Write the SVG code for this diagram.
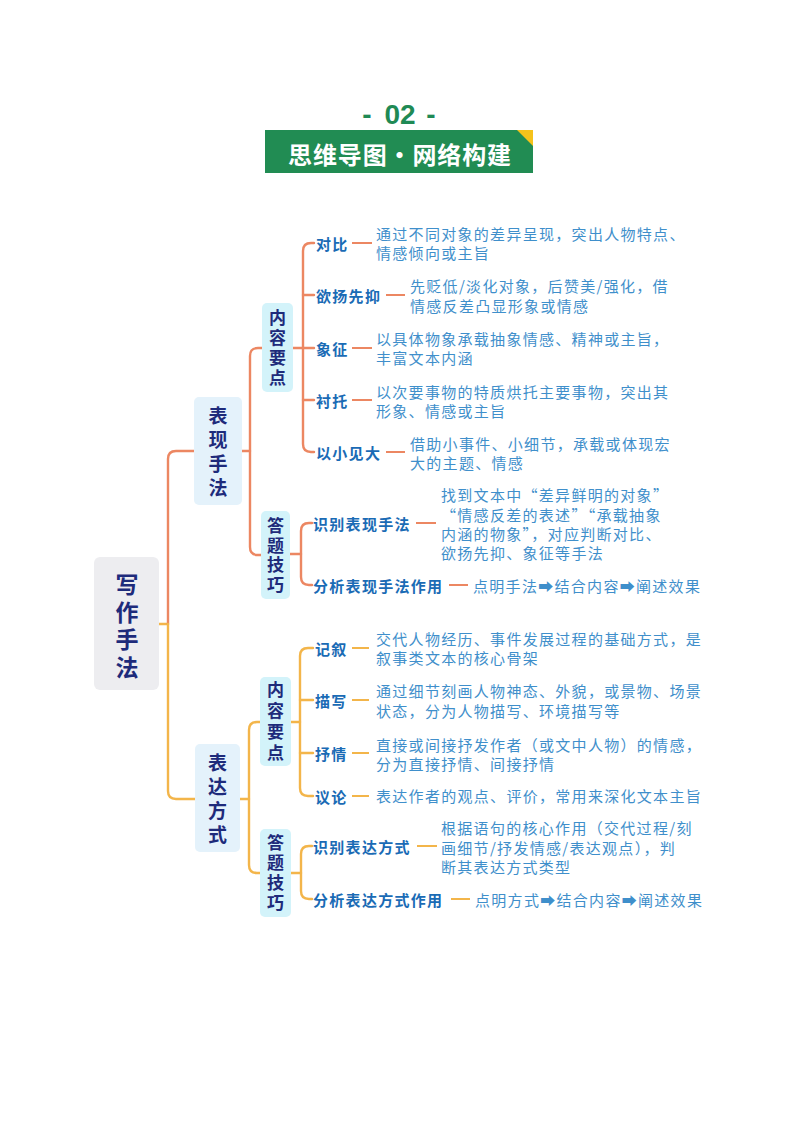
<svg xmlns="http://www.w3.org/2000/svg" width="800" height="1132" viewBox="0 0 800 1132">
<style>
.nt{font-family:"Noto Sans CJK SC","Noto Sans",sans-serif;font-weight:bold;fill:#1E2B7B;text-anchor:middle;writing-mode:vertical-rl;text-orientation:upright}
.lbl{font-family:"Noto Sans CJK SC","Noto Sans",sans-serif;font-weight:bold;font-size:15px;fill:#1A6BB5;letter-spacing:1.3px;dominant-baseline:central}
.desc{font-family:"Noto Sans CJK SC","Noto Sans","DejaVu Sans",sans-serif;font-size:15px;fill:#3F8FCB;letter-spacing:1.3px;dominant-baseline:central}
.r{fill:none;stroke:#EC8762;stroke-width:2.4;stroke-linecap:round}
.y{fill:none;stroke:#F3B54A;stroke-width:2.4;stroke-linecap:round}
.rd{fill:none;stroke:#EC8762;stroke-width:1.8}
.yd{fill:none;stroke:#F3B54A;stroke-width:1.8}
.b1{fill:#E4F2FB}
.b2{fill:#D3F3FA}
</style>
<rect width="800" height="1132" fill="#FFFFFF"/>
<g id="header">
<text x="367" y="114" font-family="Liberation Sans,Arial,sans-serif" font-weight="bold" font-size="28" fill="#1F8A55" text-anchor="middle" dominant-baseline="central">-</text>
<text x="400" y="114" font-family="Liberation Sans,Arial,sans-serif" font-weight="bold" font-size="28" fill="#1F8A55" text-anchor="middle" dominant-baseline="central">02</text>
<text x="431" y="114" font-family="Liberation Sans,Arial,sans-serif" font-weight="bold" font-size="28" fill="#1F8A55" text-anchor="middle" dominant-baseline="central">-</text>
<rect x="265" y="130" width="268" height="43" fill="#218C53"/>
<polygon points="517,130 533,130 533,146" fill="#F5C21B"/>
<text x="288" y="153" font-family="Noto Sans CJK SC,sans-serif" font-weight="bold" font-size="24" fill="#FFFFFF" dominant-baseline="central" textLength="223" lengthAdjust="spacing">思维导图·网络构建</text>
</g>
<g id="connectors">
<path class="y" d="M159,624 H168"/>
<path class="r" d="M168,624 V459 Q168,451 176,451 H194"/>
<path class="y" d="M168,624 V791 Q168,799 176,799 H195"/>
<path class="r" d="M242,451 H250"/>
<path class="r" d="M262,348 H258 Q250,348 250,356 V547 Q250,555 258,555 H261"/>
<path class="r" d="M293,348 H314"/>
<path class="r" d="M314,243 H311 Q303,243 303,251 V444 Q303,452 311,452 H314"/>
<path class="r" d="M303,295 H314 M303,400 H314"/>
<path class="r" d="M290,554 H301"/>
<path class="r" d="M312,523 H309 Q301,523 301,531 V577 Q301,585 309,585 H312"/>
<path class="rd" d="M352,243 H372 M386,295 H405 M352,348 H372 M352,400 H372 M386,452 H405 M416,523 H436 M449,585 H468"/>
<path class="y" d="M240,799 H249"/>
<path class="y" d="M260,722 H257 Q249,722 249,730 V865 Q249,873 257,873 H260"/>
<path class="y" d="M291,722 H300"/>
<path class="y" d="M313,648 H308 Q300,648 300,656 V788 Q300,796 308,796 H313"/>
<path class="y" d="M300,700 H313 M300,753 H313"/>
<path class="y" d="M291,873 H301"/>
<path class="y" d="M312,846 H309 Q301,846 301,854 V891 Q301,899 309,899 H312"/>
<path class="yd" d="M352,648 H369 M352,700 H369 M352,753 H369 M352,796 H369 M417,846 H437 M451,899 H470"/>
</g>
<g id="root">
<rect x="94" y="557" width="65" height="133" rx="6" fill="#EDEDF0"/>
<text class="nt" x="127" y="628" font-size="23" letter-spacing="4.7">写作手法</text>
</g>
<g id="biaoxian">
<rect class="b1" x="194" y="397" width="48" height="108" rx="5"/>
<text class="nt" x="218" y="454" font-size="19" letter-spacing="5">表现手法</text>
</g>
<g id="neirong1">
<rect class="b2" x="262" y="303" width="31" height="89" rx="5"/>
<text class="nt" x="277.5" y="349.5" font-size="17" letter-spacing="3">内容要点</text>
</g>
<g id="dati1">
<rect class="b2" x="261" y="511" width="29" height="88" rx="5"/>
<text class="nt" x="275.5" y="556.5" font-size="17" letter-spacing="2.5">答题技巧</text>
</g>
<g id="duibi">
<text class="lbl" x="316" y="243">对比</text>
<text class="desc" x="376" y="233">通过不同对象的差异呈现，突出人物特点、</text>
<text class="desc" x="376" y="252">情感倾向或主旨</text>
</g>
<g id="yuyang">
<text class="lbl" x="316" y="295">欲扬先抑</text>
<text class="desc" x="410" y="285">先贬低/淡化对象，后赞美/强化，借</text>
<text class="desc" x="410" y="305">情感反差凸显形象或情感</text>
</g>
<g id="xiangzheng">
<text class="lbl" x="316" y="348">象征</text>
<text class="desc" x="376" y="338">以具体物象承载抽象情感、精神或主旨，</text>
<text class="desc" x="376" y="357">丰富文本内涵</text>
</g>
<g id="chentuo">
<text class="lbl" x="316" y="400">衬托</text>
<text class="desc" x="376" y="391">以次要事物的特质烘托主要事物，突出其</text>
<text class="desc" x="376" y="410">形象、情感或主旨</text>
</g>
<g id="yixiao">
<text class="lbl" x="316" y="452">以小见大</text>
<text class="desc" x="410" y="443">借助小事件、小细节，承载或体现宏</text>
<text class="desc" x="410" y="462">大的主题、情感</text>
</g>
<g id="shibie1">
<text class="lbl" x="313" y="523">识别表现手法</text>
<text class="desc" x="441" y="494">找到文本中“差异鲜明的对象”</text>
<text class="desc" x="441" y="514">“情感反差的表述”“承载抽象</text>
<text class="desc" x="441" y="533">内涵的物象”，对应判断对比、</text>
<text class="desc" x="441" y="552">欲扬先抑、象征等手法</text>
</g>
<g id="fenxi1">
<text class="lbl" x="313" y="585">分析表现手法作用</text>
<text class="desc" x="473" y="585">点明手法➡结合内容➡阐述效果</text>
</g>
<g id="biaoda">
<rect class="b1" x="195" y="744" width="45" height="108" rx="5"/>
<text class="nt" x="217.5" y="801.5" font-size="19" letter-spacing="5">表达方式</text>
</g>
<g id="neirong2">
<rect class="b2" x="260" y="677" width="31" height="89" rx="5"/>
<text class="nt" x="275.5" y="723.5" font-size="17" letter-spacing="4">内容要点</text>
</g>
<g id="dati2">
<rect class="b2" x="260" y="829" width="31" height="88" rx="5"/>
<text class="nt" x="275.5" y="874.5" font-size="17" letter-spacing="3">答题技巧</text>
</g>
<g id="jixu">
<text class="lbl" x="315" y="648">记叙</text>
<text class="desc" x="376" y="638">交代人物经历、事件发展过程的基础方式，是</text>
<text class="desc" x="376" y="657">叙事类文本的核心骨架</text>
</g>
<g id="miaoxie">
<text class="lbl" x="315" y="700">描写</text>
<text class="desc" x="376" y="690">通过细节刻画人物神态、外貌，或景物、场景</text>
<text class="desc" x="376" y="710">状态，分为人物描写、环境描写等</text>
</g>
<g id="shuqing">
<text class="lbl" x="315" y="753">抒情</text>
<text class="desc" x="376" y="744">直接或间接抒发作者（或文中人物）的情感，</text>
<text class="desc" x="376" y="763">分为直接抒情、间接抒情</text>
</g>
<g id="yilun">
<text class="lbl" x="315" y="796">议论</text>
<text class="desc" x="376" y="795">表达作者的观点、评价，常用来深化文本主旨</text>
</g>
<g id="shibie2">
<text class="lbl" x="313" y="846">识别表达方式</text>
<text class="desc" x="441" y="827">根据语句的核心作用（交代过程/刻</text>
<text class="desc" x="441" y="847">画细节/抒发情感/表达观点），判</text>
<text class="desc" x="441" y="866">断其表达方式类型</text>
</g>
<g id="fenxi2">
<text class="lbl" x="313" y="899">分析表达方式作用</text>
<text class="desc" x="475" y="899">点明方式➡结合内容➡阐述效果</text>
</g>
</svg>
